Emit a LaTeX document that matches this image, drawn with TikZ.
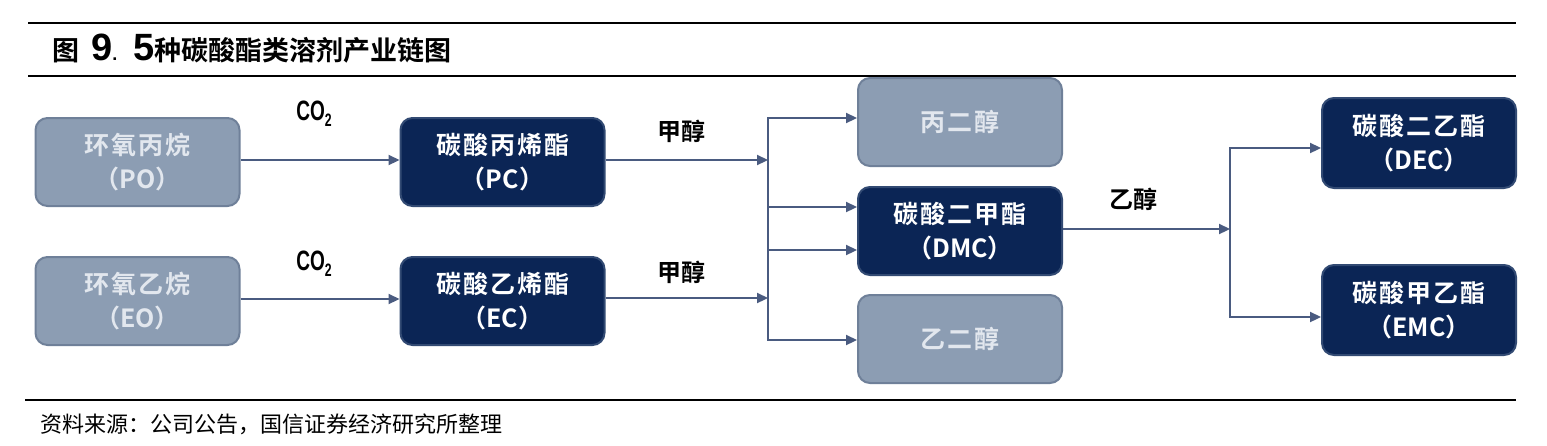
\documentclass[tikz,border=0pt]{standalone}
\usepackage{fontspec}
\usepackage{graphicx}
\usetikzlibrary{arrows.meta}
\newfontfamily\cjk{Noto Sans CJK SC}
\newfontfamily\cjkbold{Noto Sans CJK SC Bold}
\newfontfamily\cjkboxfont[LetterSpace=8]{Noto Sans CJK SC Bold}
\newfontfamily\narrowsans{Liberation Sans}
\newfontfamily\digitfont{Liberation Sans Bold}
\definecolor{lightfill}{HTML}{8C9DB3}
\definecolor{lightedge}{HTML}{6F8099}
\definecolor{lighttext}{HTML}{E2E7EE}
\definecolor{darkfill}{HTML}{0B2555}
\definecolor{darkedge}{HTML}{324A73}
\definecolor{arrowc}{HTML}{4A5B80}
\newcommand{\twolines}[2]{{\cjkboxfont #1}\\{\cjkbold #2}}
\tikzset{
  boxbase/.style={rounded corners=12pt, line width=2pt, minimum width=204pt,
    minimum height=88pt, align=center, inner sep=0pt,
    font=\cjkboxfont\fontsize{25}{34}\selectfont},
  lightbox/.style={boxbase, fill=lightfill, draw=lightedge, text=lighttext},
  darkbox/.style={boxbase, fill=darkfill, draw=darkedge, text=white},
  conn/.style={draw=arrowc, line width=2.2pt, -{Triangle[length=11pt,width=10pt]}},
  lbl/.style={font=\cjkbold\fontsize{24}{26}\selectfont, text=black, inner sep=0pt},
  rulel/.style={line width=2.4pt, black}
}
\newcommand{\cotwo}{\scalebox{0.68}[1]{\digitfont\fontsize{28}{28}\selectfont CO\raisebox{-6pt}{\fontsize{18}{18}\selectfont 2}}}
\begin{document}
\begin{tikzpicture}[x=1pt,y=-1pt]
\useasboundingbox[fill=white] (0,0) rectangle (1547,445);
% rules
\coordinate (r1a) at (28,23); \coordinate (r1b) at (1516,23);
\coordinate (r2a) at (28,76); \coordinate (r2b) at (1516,76);
\coordinate (r3a) at (25,400); \coordinate (r3b) at (1516,400);
\draw[rulel] (r1a) -- (r1b);
\draw[rulel] (r2a) -- (r2b);
\draw[rulel] (r3a) -- (r3b);
% title
\node[anchor=west, inner sep=0pt] (title) at (52,49)
  {\cjkbold\fontsize{27}{30}\selectfont 图\hspace{12pt}{\digitfont\fontsize{38}{38}\selectfont 9}{\digitfont\fontsize{18}{18}\selectfont .}\hspace{16pt}{\digitfont\fontsize{38}{38}\selectfont 5}种碳酸酯类溶剂产业链图};
% footer
\node[anchor=west, inner sep=0pt] (foot) at (40,424)
  {\cjk\fontsize{22}{24}\selectfont 资料来源：公司公告，国信证券经济研究所整理};
% boxes
\node[lightbox] (PO) at (137.5,162) {\twolines{环氧丙烷}{（PO）}};
\node[darkbox]  (PC) at (502.5,162) {\twolines{碳酸丙烯酯}{（PC）}};
\node[lightbox] (EO) at (137.5,301) {\twolines{环氧乙烷}{（EO）}};
\node[darkbox]  (EC) at (502.5,301) {\twolines{碳酸乙烯酯}{（EC）}};
\node[lightbox] (PG) at (960,122) {丙二醇};
\node[darkbox]  (DMC) at (960,231) {\twolines{碳酸二甲酯}{（DMC）}};
\node[lightbox] (EG) at (960,339) {乙二醇};
\node[darkbox, minimum width=194pt, minimum height=90pt] (DEC) at (1419,143) {\twolines{碳酸二乙酯}{（DEC）}};
\node[darkbox, minimum width=194pt, minimum height=90pt] (EMC) at (1419,310) {\twolines{碳酸甲乙酯}{（EMC）}};
% junctions
\coordinate (j1) at (768,160);
\coordinate (j2) at (768,298);
\coordinate (j3) at (1230,229);
% connectors
\draw[conn] (PO.east |- 0,160) -- (PC.west |- 0,160);
\draw[conn] (EO.east |- 0,299) -- (EC.west |- 0,299);
\draw[conn] (PC.east |- j1) -- (j1);
\draw[conn] (EC.east |- j2) -- (j2);
\draw[conn] (DMC.east |- j3) -- (j3);
\draw[conn, shorten <=-1.1pt] (j1) |- ([yshift=4pt]PG.west);
\draw[conn, shorten <=-1.1pt] (j1) |- ([yshift=-19pt]DMC.west);
\draw[conn, shorten <=-1.1pt] (j2) |- ([yshift=24pt]DMC.west);
\draw[conn, shorten <=-1.1pt] (j2) |- ([yshift=-1pt]EG.west);
\draw[conn, shorten <=-1.1pt] (j3) |- ([yshift=-5pt]DEC.west);
\draw[conn, shorten <=-1.1pt] (j3) |- ([yshift=-7pt]EMC.west);
% labels
\node[inner sep=0pt] (co1) at (314,114) {\cotwo};
\node[inner sep=0pt] (co2) at (314,264) {\cotwo};
\node[lbl] (m1) at (681,131) {甲醇};
\node[lbl] (m2) at (681,272) {甲醇};
\node[lbl] (e1) at (1133,199) {乙醇};
\end{tikzpicture}
\end{document}
